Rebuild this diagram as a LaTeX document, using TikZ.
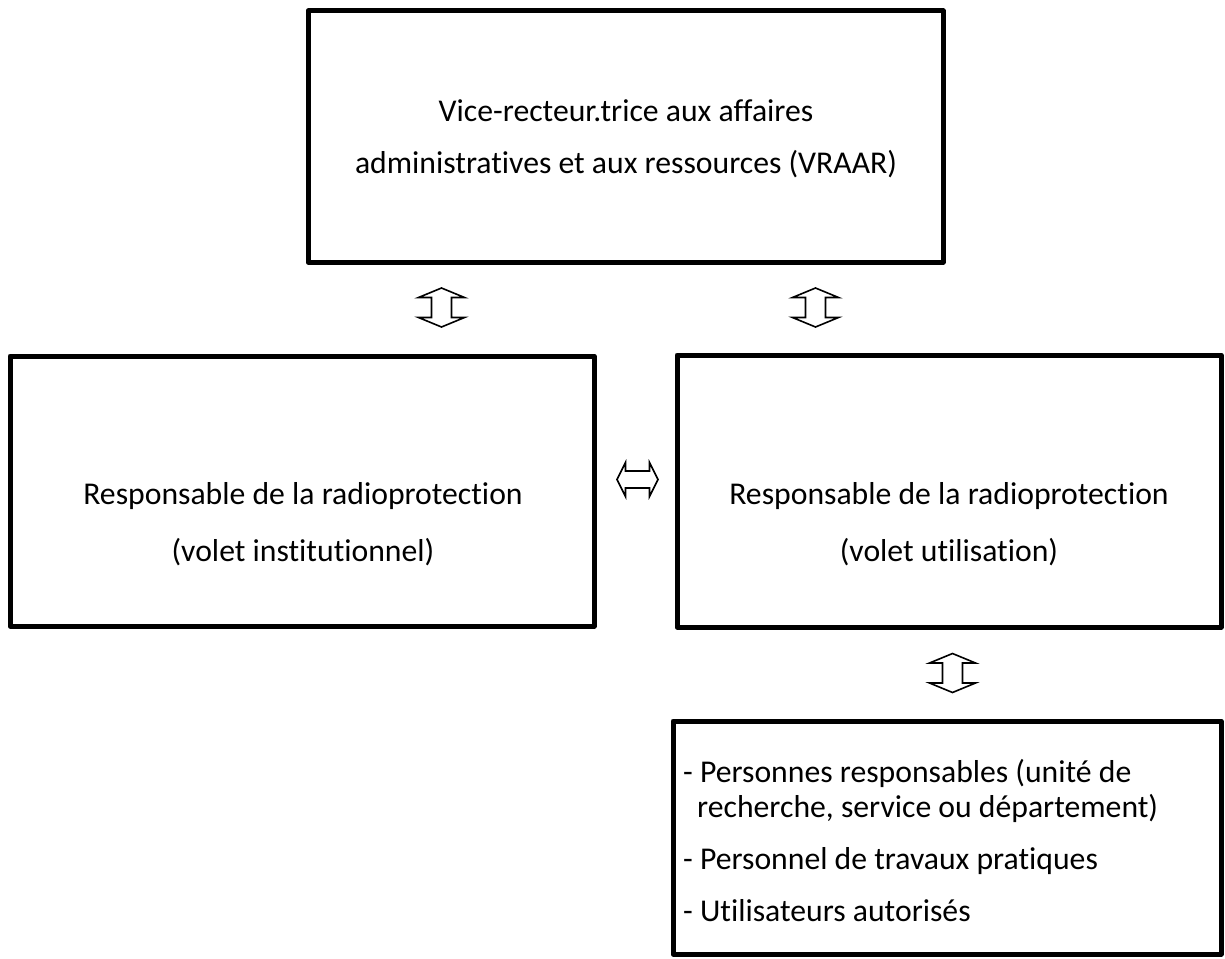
\documentclass[tikz,border=0pt]{standalone}
\usepackage{fontspec}
\setmainfont[Ligatures={NoCommon,NoRare}]{Carlito}
\begin{document}
\begin{tikzpicture}[x=1pt,y=-1pt,
  box/.style={draw=black,line width=5pt,line join=round},
  txt/.style={font=\fontsize{31.7pt}{38pt}\selectfont,inner sep=0pt,anchor=base},
  ltxt/.style={txt,anchor=base west},
  blk/.style={draw=black,line width=1.6pt,fill=white,line join=miter}]
\useasboundingbox (0,0) rectangle (1225,958);
% boxes
\draw[box] (308,11) rectangle (943,262);
\draw[box] (10,356) rectangle (594,626);
\draw[box] (677,355) rectangle (1221,627);
\draw[box] (673,721) rectangle (1221,954);
% texts
\node[txt] (t1) at (626,121) {Vice-recteur.trice aux affaires};
\node[txt] (t2) at (626,173) {administratives et aux ressources (VRAAR)};
\node[txt] (l1) at (303,504) {Responsable de la radioprotection};
\node[txt] (l2) at (303,561) {(volet institutionnel)};
\node[txt] (r1) at (949,504) {Responsable de la radioprotection};
\node[txt] (r2) at (949,561) {(volet utilisation)};
\node[ltxt] (b1) at (683,782) {- Personnes responsables (unité de};
\node[ltxt] (b2) at (697,817) {recherche, service ou département)};
\node[ltxt] (b3) at (683,869) {- Personnel de travaux pratiques};
\node[ltxt] (b4) at (683,921) {- Utilisateurs autorisés};
% double arrows
\coordinate (a1) at (441.5,307.5);
\coordinate (a2) at (815.5,307.5);
\coordinate (a3) at (952.5,673);
\coordinate (a4) at (637.5,479.5);
\foreach \c in {a1,a2,a3}{
  \draw[blk,shift={(\c)}] (0,-19.5) -- (23,-10) -- (10,-10) -- (10,10) -- (23,10)
    -- (0,19.5) -- (-23,10) -- (-10,10) -- (-10,-10) -- (-23,-10) -- cycle;
}
\draw[blk,shift={(a4)}] (-20.5,0) -- (-12,-17) -- (-12,-8.5) -- (12,-8.5) -- (12,-17)
  -- (20.5,0) -- (12,17) -- (12,8.5) -- (-12,8.5) -- (-12,17) -- cycle;
\end{tikzpicture}
\end{document}
